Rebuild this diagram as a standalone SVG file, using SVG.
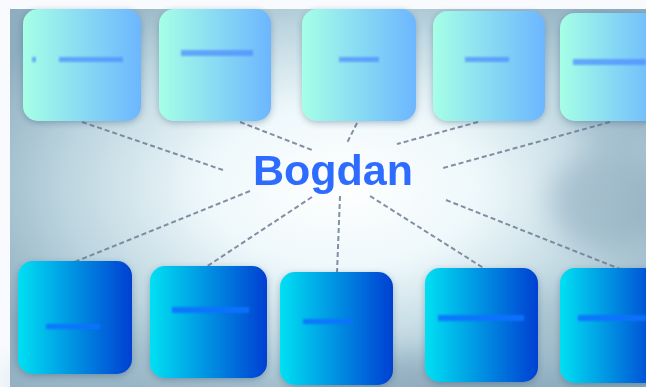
<svg xmlns="http://www.w3.org/2000/svg" width="646" height="387" viewBox="0 0 646 387">
  <defs>
    <linearGradient id="gTop" x1="0" y1="0" x2="1" y2="0">
      <stop offset="0" stop-color="#a6ffe6"/>
      <stop offset="1" stop-color="#6cb6ff"/>
    </linearGradient>
    <linearGradient id="gBot" x1="0" y1="0" x2="1" y2="0">
      <stop offset="0" stop-color="#00e0f2"/>
      <stop offset="1" stop-color="#0040d2"/>
    </linearGradient>
    <radialGradient id="sky" cx="0.52" cy="0.47" r="0.62">
      <stop offset="0" stop-color="#ffffff"/>
      <stop offset="0.35" stop-color="#eef8fb"/>
      <stop offset="0.7" stop-color="#bcd5df"/>
      <stop offset="1" stop-color="#8eadbf"/>
    </radialGradient>
    <filter id="soft" x="-30%" y="-30%" width="160%" height="160%">
      <feGaussianBlur stdDeviation="14"/>
    </filter>
    <filter id="shadow" x="-20%" y="-20%" width="140%" height="140%">
      <feDropShadow dx="0" dy="2" stdDeviation="3" flood-color="#2a4a66" flood-opacity="0.35"/>
    </filter>
    <filter id="glow" x="-20%" y="-20%" width="140%" height="140%">
      <feGaussianBlur stdDeviation="0.6"/>
    </filter>
    <filter id="fuzz" x="-20%" y="-200%" width="140%" height="500%">
      <feGaussianBlur stdDeviation="1"/>
    </filter>
  </defs>
  <style>
    .top rect.box { fill: url(#gTop); }
    .bot rect.box { fill: url(#gBot); }
    .node rect.box { filter: url(#shadow); }
    rect.lbl { filter: url(#fuzz); }
    .top rect.lbl { fill: #4f8fff; opacity: 0.75; }
    .bot rect.lbl { fill: #0a72ff; opacity: 0.9; }
    #links line { stroke: #6f7c93; stroke-width: 2; stroke-dasharray: 5 3; opacity: 0.85; }
    .title { font-family: "Liberation Sans", Arial, sans-serif; font-weight: bold; font-size: 43px; fill: #2f6cff; }
  </style>

  <!-- page and cloudy backdrop -->
  <rect x="0" y="0" width="646" height="387" fill="#f8fafd"/>
  <g id="backdrop">
    <rect x="10" y="9" width="636" height="378" fill="url(#sky)"/>
    <g filter="url(#soft)" opacity="0.45">
      <ellipse cx="610" cy="200" rx="60" ry="50" fill="#7f9db2"/>
      <ellipse cx="560" cy="330" rx="90" ry="40" fill="#9fb9c8"/>
      <ellipse cx="420" cy="380" rx="120" ry="25" fill="#7c97ad"/>
      <ellipse cx="120" cy="380" rx="120" ry="20" fill="#a9c3d0"/>
      <ellipse cx="620" cy="110" rx="50" ry="40" fill="#8eaabd"/>
    </g>
  </g>

  <!-- connectors -->
  <g id="links">
    <line x1="82" y1="122" x2="223" y2="170"/>
    <line x1="240" y1="122" x2="312" y2="150"/>
    <line x1="357" y1="123" x2="347" y2="143"/>
    <line x1="478" y1="122" x2="397" y2="144"/>
    <line x1="610" y1="122" x2="443" y2="168"/>
    <line x1="250" y1="191" x2="72" y2="263"/>
    <line x1="312" y1="197" x2="206" y2="267"/>
    <line x1="340" y1="196" x2="337" y2="273"/>
    <line x1="370" y1="196" x2="485" y2="269"/>
    <line x1="446" y1="200" x2="620" y2="269"/>
  </g>

  <!-- central label -->
  <text class="title" x="333" y="185" text-anchor="middle" filter="url(#glow)">Bogdan</text>

  <!-- upper row -->
  <g id="t1" class="node top">
    <rect class="box" x="23" y="9" width="118" height="112" rx="15"/>
    <rect class="lbl" x="32" y="57" width="4" height="5"/>
    <rect class="lbl" x="59" y="57" width="64" height="5"/>
  </g>
  <g id="t2" class="node top">
    <rect class="box" x="159" y="9" width="112" height="112" rx="15"/>
    <rect class="lbl" x="181" y="50" width="72" height="6"/>
  </g>
  <g id="t3" class="node top">
    <rect class="box" x="302" y="9" width="114" height="112" rx="15"/>
    <rect class="lbl" x="339" y="57" width="40" height="5"/>
  </g>
  <g id="t4" class="node top">
    <rect class="box" x="433" y="11" width="112" height="110" rx="15"/>
    <rect class="lbl" x="465" y="57" width="44" height="5"/>
  </g>
  <g id="t5" class="node top">
    <rect class="box" x="560" y="13" width="100" height="108" rx="15"/>
    <rect class="lbl" x="573" y="59" width="73" height="6"/>
  </g>

  <!-- lower row -->
  <g id="b1" class="node bot">
    <rect class="box" x="18" y="261" width="114" height="113" rx="15"/>
    <rect class="lbl" x="46" y="324" width="54" height="5"/>
  </g>
  <g id="b2" class="node bot">
    <rect class="box" x="150" y="266" width="117" height="112" rx="15"/>
    <rect class="lbl" x="172" y="307" width="77" height="6"/>
  </g>
  <g id="b3" class="node bot">
    <rect class="box" x="280" y="272" width="113" height="113" rx="15"/>
    <rect class="lbl" x="303" y="319" width="50" height="5"/>
  </g>
  <g id="b4" class="node bot">
    <rect class="box" x="425" y="268" width="113" height="114" rx="15"/>
    <rect class="lbl" x="438" y="315" width="86" height="6"/>
  </g>
  <g id="b5" class="node bot">
    <rect class="box" x="560" y="268" width="100" height="115" rx="15"/>
    <rect class="lbl" x="578" y="315" width="68" height="6"/>
  </g>
</svg>
